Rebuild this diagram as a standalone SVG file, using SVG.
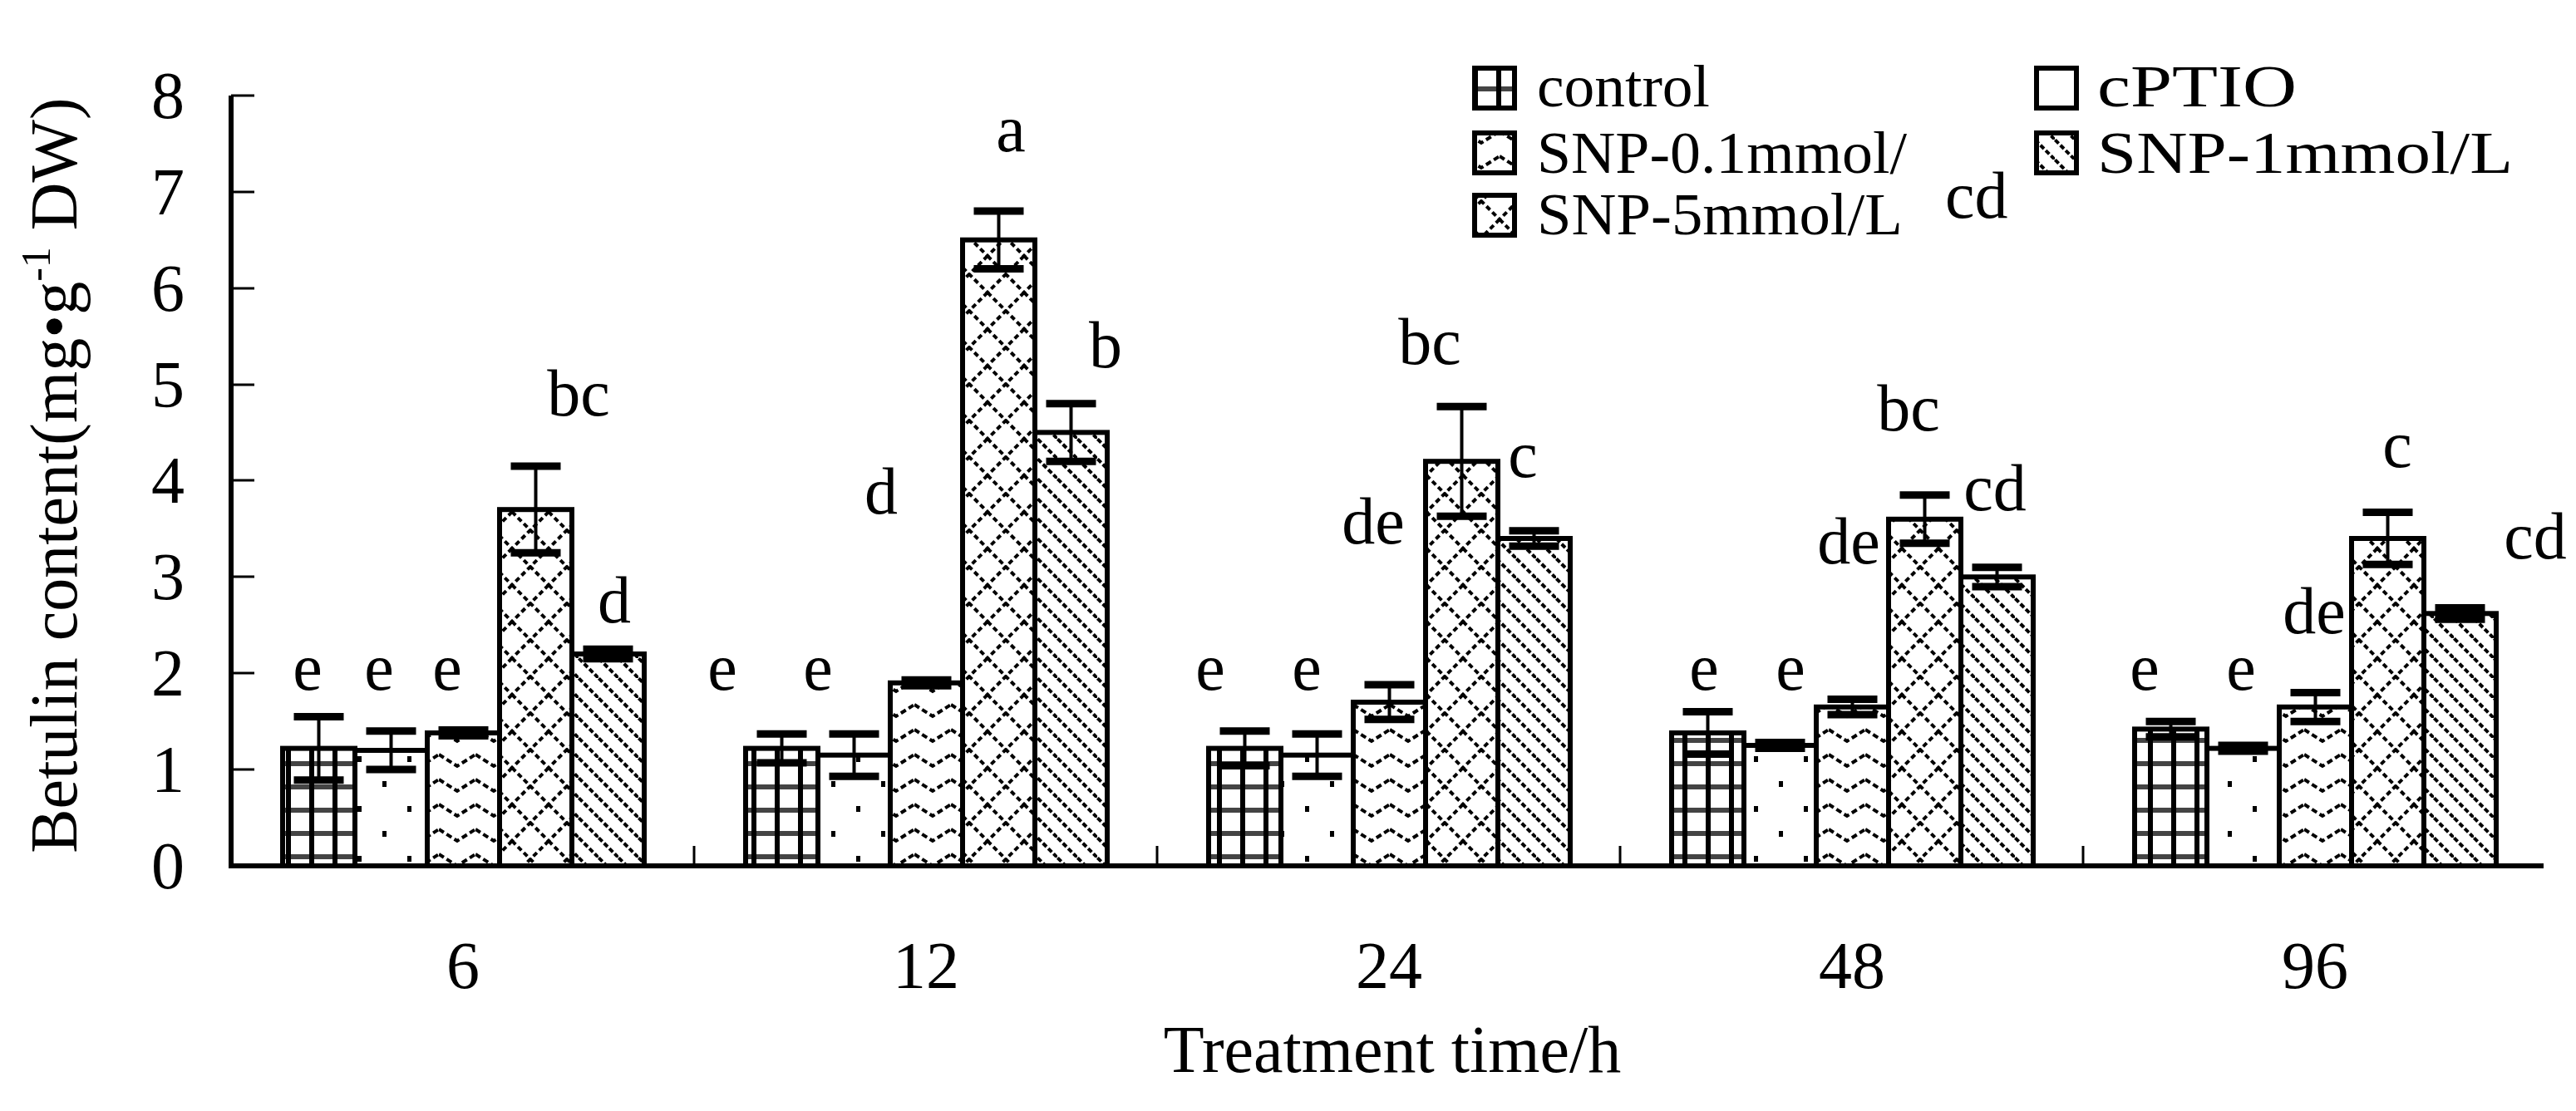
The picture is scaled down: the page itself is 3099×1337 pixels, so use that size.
<svg xmlns="http://www.w3.org/2000/svg" width="3099" height="1337" viewBox="0 0 3099 1337">
<style>
text{font-family:"Liberation Serif","Times New Roman",serif;font-size:80px;fill:#000}
.lab{text-anchor:middle}
.yt{text-anchor:end}
.leg{font-size:72px}
.bar{stroke:#000;stroke-width:6}
.eb{stroke:#000;stroke-width:4}
.cap{stroke:#000;stroke-width:9}
.ax{stroke:#000;stroke-width:6;fill:none}
.tk{stroke:#000;stroke-width:3}
</style>
<defs>
<pattern id="pGrid" width="28" height="28" patternUnits="userSpaceOnUse">
<rect width="28" height="28" fill="#fff"/>
<rect x="0" y="20" width="28" height="6" fill="#444"/>
<rect x="8" y="0" width="6" height="28" fill="#000"/>
</pattern>
<pattern id="pDot" width="60" height="60" patternUnits="userSpaceOnUse">
<rect width="60" height="60" fill="#fff"/>
<rect x="10" y="10" width="5" height="7" fill="#000"/>
<rect x="40" y="40" width="5" height="7" fill="#000"/>
</pattern>
<pattern id="pZig" width="44" height="30" patternUnits="userSpaceOnUse">
<rect width="44" height="30" fill="#fff"/>
<path d="M0 8 L22 22 L44 8" fill="none" stroke="#000" stroke-width="4" stroke-dasharray="7 4"/>
</pattern>
<pattern id="pDia" width="44" height="44" patternUnits="userSpaceOnUse">
<rect width="44" height="44" fill="#fff"/>
<path d="M0 0 L44 44 M44 0 L0 44" fill="none" stroke="#000" stroke-width="4" stroke-dasharray="6 4"/>
</pattern>
<pattern id="pDiag" width="24" height="24" patternUnits="userSpaceOnUse">
<rect width="24" height="24" fill="#fff"/>
<path d="M-6 -6 L30 30 M-6 18 L6 30 M18 -6 L30 6" fill="none" stroke="#000" stroke-width="4" stroke-dasharray="6 3"/>
</pattern>
</defs>
<rect width="3099" height="1337" fill="#fff"/>

<g id="axes">
<path class="ax" d="M278 115 L278 1042 L3060 1042"/>
<g class="tk">
<line x1="278" y1="115" x2="306" y2="115"/><line x1="278" y1="231" x2="306" y2="231"/>
<line x1="278" y1="347" x2="306" y2="347"/><line x1="278" y1="463" x2="306" y2="463"/>
<line x1="278" y1="578" x2="306" y2="578"/><line x1="278" y1="694" x2="306" y2="694"/>
<line x1="278" y1="810" x2="306" y2="810"/><line x1="278" y1="926" x2="306" y2="926"/>
<line x1="835" y1="1042" x2="835" y2="1018"/><line x1="1392" y1="1042" x2="1392" y2="1018"/>
<line x1="1949" y1="1042" x2="1949" y2="1018"/><line x1="2506" y1="1042" x2="2506" y2="1018"/>
</g>
<text class="yt" x="222" y="142">8</text><text class="yt" x="222" y="258">7</text>
<text class="yt" x="222" y="374">6</text><text class="yt" x="222" y="490">5</text>
<text class="yt" x="222" y="605">4</text><text class="yt" x="222" y="721">3</text>
<text class="yt" x="222" y="837">2</text><text class="yt" x="222" y="953">1</text>
<text class="yt" x="222" y="1069">0</text>
<text class="lab" x="557" y="1189">6</text><text class="lab" x="1114" y="1189">12</text>
<text class="lab" x="1671" y="1189">24</text><text class="lab" x="2228" y="1189">48</text>
<text class="lab" x="2785" y="1189">96</text>
<text class="lab" x="1675" y="1290">Treatment time/h</text>
<text class="lab" transform="translate(92 572) rotate(-90)">Betulin content(mg•g<tspan font-size="50" dy="-32">-1</tspan><tspan dy="32"> DW)</tspan></text>
</g>

<g id="bars">
<rect class="bar" x="340" y="900.6" width="87" height="141.4" fill="url(#pGrid)"/>
<rect class="bar" x="427" y="903" width="87" height="139" fill="url(#pDot)"/>
<rect class="bar" x="514" y="882" width="87" height="160" fill="url(#pZig)"/>
<rect class="bar" x="601" y="613.2" width="87" height="428.8" fill="url(#pDia)"/>
<rect class="bar" x="688" y="787" width="87" height="255" fill="url(#pDiag)"/>
<rect class="bar" x="897" y="900.6" width="87" height="141.4" fill="url(#pGrid)"/>
<rect class="bar" x="984" y="908.7" width="87" height="133.3" fill="url(#pDot)"/>
<rect class="bar" x="1071" y="821.8" width="87" height="220.2" fill="url(#pZig)"/>
<rect class="bar" x="1158" y="288.7" width="87" height="753.3" fill="url(#pDia)"/>
<rect class="bar" x="1245" y="520.4" width="87" height="521.6" fill="url(#pDiag)"/>
<rect class="bar" x="1454" y="900.6" width="87" height="141.4" fill="url(#pGrid)"/>
<rect class="bar" x="1541" y="908.7" width="87" height="133.3" fill="url(#pDot)"/>
<rect class="bar" x="1628" y="845" width="87" height="197" fill="url(#pZig)"/>
<rect class="bar" x="1715" y="555.2" width="87" height="486.8" fill="url(#pDia)"/>
<rect class="bar" x="1802" y="648" width="87" height="394" fill="url(#pDiag)"/>
<rect class="bar" x="2011" y="882" width="87" height="160" fill="url(#pGrid)"/>
<rect class="bar" x="2098" y="897" width="87" height="145" fill="url(#pDot)"/>
<rect class="bar" x="2185" y="850.8" width="87" height="191.2" fill="url(#pZig)"/>
<rect class="bar" x="2272" y="624.8" width="87" height="417.2" fill="url(#pDia)"/>
<rect class="bar" x="2359" y="694.3" width="87" height="347.7" fill="url(#pDiag)"/>
<rect class="bar" x="2568" y="877.4" width="87" height="164.6" fill="url(#pGrid)"/>
<rect class="bar" x="2655" y="900.6" width="87" height="141.4" fill="url(#pDot)"/>
<rect class="bar" x="2742" y="850.8" width="87" height="191.2" fill="url(#pZig)"/>
<rect class="bar" x="2829" y="648" width="87" height="394" fill="url(#pDia)"/>
<rect class="bar" x="2916" y="738.3" width="87" height="303.7" fill="url(#pDiag)"/>
</g>

<g id="errorbars">
<path class="eb" d="M383.5 862.4V938.8 M470.5 879.7V926.1 M557.5 878.6V885.5 M644.5 561V665.3 M731.5 781.2V792.8
M940.5 883.2V918 M1027.5 883.2V934.2 M1114.5 818.3V825.3 M1201.5 253.9V323.4 M1288.5 485.7V555.2
M1497.5 879.7V921.5 M1584.5 883.2V934.2 M1671.5 824.1V865.8 M1758.5 489.2V621.3 M1845.5 638.7V657.2
M2054.5 856.6V907.6 M2141.5 893.6V900.6 M2228.5 841.5V860 M2315.5 595.8V653.7 M2402.5 682.7V705.9
M2611.5 868.2V886.7 M2698.5 897.1V904.1 M2785.5 833.4V868.2 M2872.5 616.6V679.2 M2959.5 731.4V745.3"/>
<path class="cap" d="M353.5 862.4h60M353.5 938.8h60 M440.5 879.7h60M440.5 926.1h60 M527.5 878.6h60M527.5 885.5h60 M614.5 561h60M614.5 665.3h60 M701.5 781.2h60M701.5 792.8h60
M910.5 883.2h60M910.5 918h60 M997.5 883.2h60M997.5 934.2h60 M1084.5 818.3h60M1084.5 825.3h60 M1171.5 253.9h60M1171.5 323.4h60 M1258.5 485.7h60M1258.5 555.2h60
M1467.5 879.7h60M1467.5 921.5h60 M1554.5 883.2h60M1554.5 934.2h60 M1641.5 824.1h60M1641.5 865.8h60 M1728.5 489.2h60M1728.5 621.3h60 M1815.5 638.7h60M1815.5 657.2h60
M2024.5 856.6h60M2024.5 907.6h60 M2111.5 893.6h60M2111.5 900.6h60 M2198.5 841.5h60M2198.5 860h60 M2285.5 595.8h60M2285.5 653.7h60 M2372.5 682.7h60M2372.5 705.9h60
M2581.5 868.2h60M2581.5 886.7h60 M2668.5 897.1h60M2668.5 904.1h60 M2755.5 833.4h60M2755.5 868.2h60 M2842.5 616.6h60M2842.5 679.2h60 M2929.5 731.4h60M2929.5 745.3h60"/>
</g>

<g id="letters">
<text class="lab" x="370" y="830">e</text><text class="lab" x="456" y="830">e</text><text class="lab" x="538" y="830">e</text>
<text class="lab" x="696" y="500">bc</text><text class="lab" x="739" y="749">d</text>
<text class="lab" x="869" y="830">e</text><text class="lab" x="984" y="830">e</text><text class="lab" x="1060" y="618">d</text>
<text class="lab" x="1216" y="182">a</text><text class="lab" x="1330" y="442">b</text>
<text class="lab" x="1456" y="830">e</text><text class="lab" x="1572" y="830">e</text><text class="lab" x="1652" y="654">de</text>
<text class="lab" x="1720" y="438">bc</text><text class="lab" x="1832" y="574">c</text>
<text class="lab" x="2050" y="830">e</text><text class="lab" x="2154" y="830">e</text><text class="lab" x="2224" y="678">de</text>
<text class="lab" x="2296" y="518">bc</text><text class="lab" x="2400" y="614">cd</text>
<text class="lab" x="2580" y="830">e</text><text class="lab" x="2696" y="830">e</text><text class="lab" x="2784" y="762">de</text>
<text class="lab" x="2884" y="562">c</text><text class="lab" x="3050" y="672">cd</text>
<text x="2340" y="262">cd</text>
</g>

<g id="legend">
<rect class="bar" x="1774" y="82" width="48" height="48" fill="url(#pGrid)"/><text class="leg" x="1849" y="128" textLength="208" lengthAdjust="spacingAndGlyphs">control</text>
<rect class="bar" x="2450" y="82" width="48" height="48" fill="url(#pDot)"/><text class="leg" x="2523" y="128" textLength="240" lengthAdjust="spacingAndGlyphs">cPTIO</text>
<rect class="bar" x="1774" y="160" width="48" height="48" fill="url(#pZig)"/><text class="leg" x="1849" y="208" textLength="445" lengthAdjust="spacingAndGlyphs">SNP-0.1mmol/</text>
<rect class="bar" x="2450" y="160" width="48" height="48" fill="url(#pDiag)"/><text class="leg" x="2523" y="208" textLength="500" lengthAdjust="spacingAndGlyphs">SNP-1mmol/L</text>
<rect class="bar" x="1774" y="235" width="48" height="48" fill="url(#pDia)"/><text class="leg" x="1849" y="282" textLength="440" lengthAdjust="spacingAndGlyphs">SNP-5mmol/L</text>
</g>
</svg>
